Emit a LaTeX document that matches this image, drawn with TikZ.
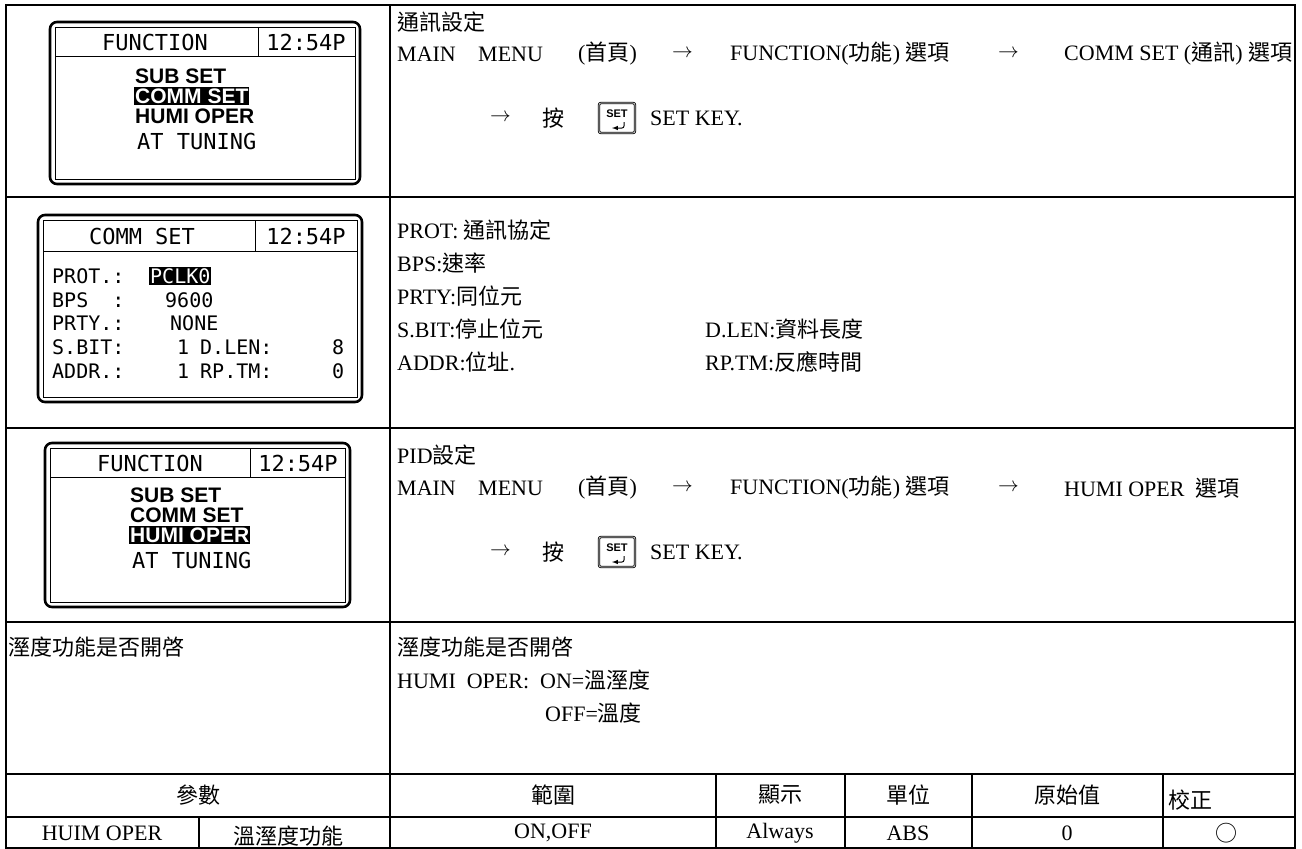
\documentclass[tikz,border=0pt]{standalone}
\usepackage{fontspec}
\setmainfont{Liberation Serif}
\newfontfamily\cjk{Noto Sans CJK TC}
\newfontfamily\lcdfont{DejaVu Sans Mono}
\newfontfamily\menufont{Liberation Sans}
\usetikzlibrary{positioning}
\newcommand{\zh}[1]{{\cjk #1}}
\newcommand{\ar}{$\rightarrow$}

\begin{document}
\begin{tikzpicture}[x=1pt,y=-1pt,
  every node/.style={inner sep=0pt},
  txt/.style={anchor=west,font=\fontsize{22}{24}\selectfont},
  ctr/.style={font=\fontsize{22}{24}\selectfont},
  grid/.style={line width=2.6pt},
  thin/.style={line width=1.8pt},
  bezel/.style={line width=2.6pt,rounded corners=7pt},
  glass/.style={line width=0.9pt},
  lcd/.style={font=\lcdfont\fontsize{22}{22}\selectfont},
  lcdsm/.style={anchor=west,font=\lcdfont\fontsize{20}{20}\selectfont},
  menu/.style={anchor=west,font=\menufont\bfseries\fontsize{21}{21}\selectfont},
  hilite/.style={fill=black,text=white,inner xsep=1pt,inner ysep=1.5pt},
  setkey/.style={draw,double,line width=0.9pt,rounded corners=2pt,
    minimum width=36pt,minimum height=30pt,
    font=\menufont\bfseries\fontsize{11}{11}\selectfont,text depth=8pt,
    path picture={\draw[line width=1pt,-latex]
      ([xshift=7pt,yshift=-4pt]path picture bounding box.center)
      -- ++(0,-6pt) -- ++(-12pt,0);}}]
\useasboundingbox (0,0) rectangle (1302,849);

\draw[grid] (6,5) rectangle (1295,774);
\draw[grid] (390,5) -- (390,774);
\foreach \y in {197,428,622} \draw[grid] (6,\y) -- (1295,\y);
\draw[thin] (6,774) rectangle (1295,848);
\draw[thin] (6,817) -- (1295,817);
\foreach \x in {390,716,845,972,1163} \draw[thin] (\x,774) -- (\x,848);
\draw[thin] (199,817) -- (199,848);

\draw[bezel] (50,22) rectangle (360,184);
\draw[glass] (55,27) rectangle (355,179);
\draw[glass] (55,56) -- (355,56);
\draw[glass] (258,27) -- (258,56);
\node[lcd] (f1title) at (155,42) {FUNCTION};
\node[lcd] (f1time) at (306,42) {12:54P};
\node[menu] (f1sub) at (135,76) {SUB SET};
\node[menu,hilite] (f1comm) at (134,96) {COMM SET\hspace{6pt}};
\node[menu] (f1humi) at (135,116) {HUMI OPER};
\node[lcd,anchor=west] (f1at) at (137,141) {AT TUNING};

\draw[bezel] (38,215) rectangle (362,402);
\draw[glass] (43,220) rectangle (357,397);
\draw[glass] (43,251) -- (357,251);
\draw[glass] (255,220) -- (255,251);
\node[lcd] (c2title) at (142,236) {COMM SET};
\node[lcd] (c2time) at (306,236) {12:54P};
\node[lcdsm] (c2prot) at (52,276) {PROT.:};
\node[lcdsm,hilite] (c2protv) at (149,276) {PCLK0};
\node[lcdsm] (c2bps) at (52,300) {BPS\ \ :};
\node[lcdsm] (c2bpsv) at (165,300) {9600};
\node[lcdsm] (c2prty) at (52,323) {PRTY.:};
\node[lcdsm] (c2prtyv) at (170,323) {NONE};
\node[lcdsm] (c2sbit) at (52,347) {S.BIT:};
\node[lcdsm] (c2sbitv) at (177,347) {1};
\node[lcdsm] (c2dlen) at (200,347) {D.LEN:};
\node[lcdsm] (c2dlenv) at (332,347) {8};
\node[lcdsm] (c2addr) at (52,371) {ADDR.:};
\node[lcdsm] (c2addrv) at (177,371) {1};
\node[lcdsm] (c2rptm) at (200,371) {RP.TM:};
\node[lcdsm] (c2rptmv) at (332,371) {0};

\draw[bezel] (45,443) rectangle (350,607);
\draw[glass] (50,448) rectangle (345,602);
\draw[glass] (50,477) -- (345,477);
\draw[glass] (250,448) -- (250,477);
\node[lcd] (f3title) at (150,463) {FUNCTION};
\node[lcd] (f3time) at (298,463) {12:54P};
\node[menu] (f3sub) at (130,495) {SUB SET};
\node[menu] (f3comm) at (130,515) {COMM SET};
\node[menu,hilite] (f3humi) at (129,535) {HUMI OPER\hspace{6pt}};
\node[lcd,anchor=west] (f3at) at (132,560) {AT TUNING};

\node[txt] (r1head) at (397,22) {\zh{通訊設定}};
\node[txt] (r1main) at (397,54) {MAIN};
\node[txt] (r1menu) at (478,54) {MENU};
\node[txt] (r1home) at (578,54) {(\zh{首頁})};
\node[txt] (r1ara) at (672,54) {\ar};
\node[txt] (r1func) at (730,54) {FUNCTION(\zh{功能}) \zh{選項}};
\node[txt] (r1arb) at (998,54) {\ar};
\node[txt] (r1comm) at (1064,54) {COMM SET (\zh{通訊}) \zh{選項}};
\node[txt] (r1arc) at (490,118) {\ar};
\node[txt] (r1press) at (542,118) {\zh{按}};
\node[setkey] (r1key) at (617,118) {SET};
\node[txt] (r1setkey) at (650,118) {SET KEY.};

\node[txt] (r2prot) at (397,230) {PROT: \zh{通訊協定}};
\node[txt] (r2bps) at (397,263) {BPS:\zh{速率}};
\node[txt] (r2prty) at (397,296) {PRTY:\zh{同位元}};
\node[txt] (r2sbit) at (397,329) {S.BIT:\zh{停止位元}};
\node[txt] (r2dlen) at (705,329) {D.LEN:\zh{資料長度}};
\node[txt] (r2addr) at (397,362) {ADDR:\zh{位址}.};
\node[txt] (r2rptm) at (705,362) {RP.TM:\zh{反應時間}};

\node[txt] (r3head) at (397,455) {PID\zh{設定}};
\node[txt] (r3main) at (397,488) {MAIN};
\node[txt] (r3menu) at (478,488) {MENU};
\node[txt] (r3home) at (578,488) {(\zh{首頁})};
\node[txt] (r3ara) at (672,488) {\ar};
\node[txt] (r3func) at (730,488) {FUNCTION(\zh{功能}) \zh{選項}};
\node[txt] (r3arb) at (998,488) {\ar};
\node[txt] (r3humi) at (1064,488) {HUMI OPER\ \ \zh{選項}};
\node[txt] (r3arc) at (490,552) {\ar};
\node[txt] (r3press) at (542,552) {\zh{按}};
\node[setkey] (r3key) at (617,552) {SET};
\node[txt] (r3setkey) at (650,552) {SET KEY.};

\node[txt] (r4left) at (8,647) {\zh{溼度功能是否開啓}};
\node[txt] (r4head) at (397,647) {\zh{溼度功能是否開啓}};
\node[txt] (r4on) at (397,680) {HUMI\ \ OPER:\ \ ON=\zh{溫溼度}};
\node[txt] (r4off) at (545,713) {OFF=\zh{溫度}};

\node[ctr] (hparam) at (198,795) {\zh{參數}};
\node[ctr] (hrange) at (553,795) {\zh{範圍}};
\node[ctr] (hshow) at (780,795) {\zh{顯示}};
\node[ctr] (hunit) at (908,795) {\zh{單位}};
\node[ctr] (hinit) at (1067,795) {\zh{原始值}};
\node[txt] (hcal) at (1168,800) {\zh{校正}};
\node[ctr] (dname) at (102,833) {HUIM OPER};
\node[ctr] (ddesc) at (288,836) {\zh{溫溼度功能}};
\node[ctr] (drange) at (553,833) {ON,OFF};
\node[ctr] (dshow) at (780,833) {Always};
\node[ctr] (dunit) at (908,833) {ABS};
\node[ctr] (dinit) at (1067,833) {0};
\node[ctr] (dcal) at (1226,833) {\zh{○}};
\end{tikzpicture}
\end{document}
